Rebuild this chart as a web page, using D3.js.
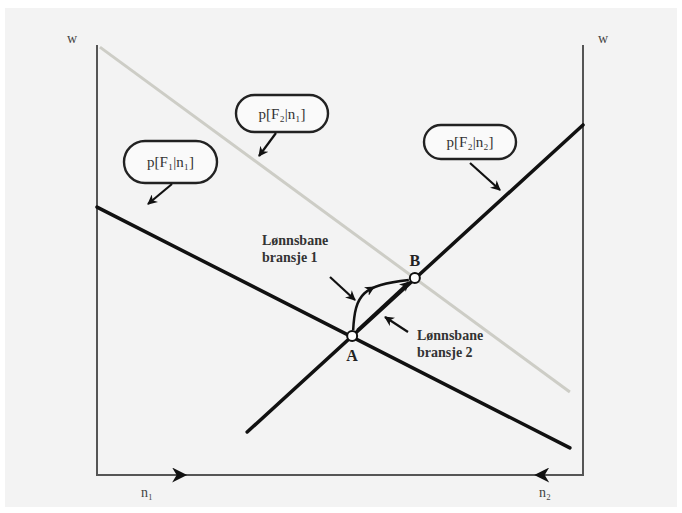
<!DOCTYPE html>
<html><head><meta charset="utf-8">
<script src="https://cdn.jsdelivr.net/npm/d3@7"></script>
<style>body{margin:0;background:#fff}svg{display:block}</style>
</head><body>
<svg id="c" width="682" height="513"></svg>
<script>
// Data (in abstract units 0..100)
const lineF1n1 = [[0, 62.3], [97.3, 6.3]];
const lineF2n2 = [[30.9, 10], [100, 81.4]];
const lineF2n1 = [[0.6, 99.5], [97.3, 19.3]];
const pointA = [52.5, 32.3];
const pointB = [65.4, 45.8];
const pointLabels = ["A", "B"];
const curveLabels = ["p[F₁|n₁]", "p[F₂|n₁]", "p[F₂|n₂]"];
const pathLabels = [["Lønnsbane", "bransje 1"], ["Lønnsbane", "bransje 2"]];
const axisLabels = ["w", "w", "n₁", "n₂"];

const svg = d3.select("#c");
const x = d3.scaleLinear().domain([0, 100]).range([97, 583]);
const y = d3.scaleLinear().domain([0, 100]).range([475, 45]);

svg.append("rect").attr("x", 5).attr("y", 8).attr("width", 672).attr("height", 499).attr("fill", "#f3f3f3");

const defs = svg.append("defs");
defs.append("marker").attr("id", "ah").attr("viewBox", "0 0 10 10").attr("refX", 9).attr("refY", 5)
  .attr("markerWidth", 10).attr("markerHeight", 10).attr("markerUnits", "userSpaceOnUse").attr("orient", "auto")
  .append("path").attr("d", "M0,0 L10,5 L0,10 L3,5 Z").attr("fill", "#111");
defs.append("marker").attr("id", "ahb").attr("viewBox", "0 0 10 10").attr("refX", 5).attr("refY", 5)
  .attr("markerWidth", 18).attr("markerHeight", 15).attr("markerUnits", "userSpaceOnUse").attr("orient", "auto")
  .append("path").attr("d", "M0,0 L10,5 L0,10 L3,5 Z").attr("fill", "#111");

const serif = "'Liberation Serif','DejaVu Serif',serif";

// axes frame
const frame = [[0, 100], [0, 0], [100, 0], [100, 100]];
svg.append("path").attr("d", d3.line().x(d => x(d[0])).y(d => y(d[1]))(frame))
  .attr("fill", "none").attr("stroke", "#555").attr("stroke-width", 2);
// bottom axis arrows
svg.append("line").attr("x1", x(10)).attr("y1", y(0)).attr("x2", x(17)).attr("y2", y(0)).attr("stroke", "none").attr("marker-end", "url(#ahb)");
svg.append("line").attr("x1", x(97)).attr("y1", y(0)).attr("x2", x(91.5)).attr("y2", y(0)).attr("stroke", "none").attr("marker-end", "url(#ahb)");

const ln = d3.line().x(d => x(d[0])).y(d => y(d[1]));
svg.append("path").attr("d", ln(lineF2n1)).attr("stroke", "#cdcdc6").attr("stroke-width", 3).attr("fill", "none");
svg.append("path").attr("d", ln(lineF1n1)).attr("stroke", "#111").attr("stroke-width", 3.5).attr("fill", "none").attr("stroke-linecap", "round");
svg.append("path").attr("d", ln(lineF2n2)).attr("stroke", "#111").attr("stroke-width", 3.5).attr("fill", "none").attr("stroke-linecap", "round");

// wage paths from A to B
const ax = x(pointA[0]), ay = y(pointA[1]), bx = x(pointB[0]), by = y(pointB[1]);
const P = [[ax + 1, ay - 6], [ax + 3, ay - 42], [ax + 10, ay - 51], [bx - 6, by + 2]];
svg.append("path").attr("d", `M${P[0]} C${P[1]} ${P[2]} ${P[3]}`)
  .attr("fill", "none").attr("stroke", "#111").attr("stroke-width", 2.5);
const t = 0.6, u = 1 - t;
const bz = k => u*u*u*P[0][k] + 3*u*u*t*P[1][k] + 3*u*t*t*P[2][k] + t*t*t*P[3][k];
const dz = k => u*u*(P[1][k]-P[0][k]) + 2*u*t*(P[2][k]-P[1][k]) + t*t*(P[3][k]-P[2][k]);
const mid = [bz(0), bz(1)], tg = [dz(0), dz(1)], tl = Math.hypot(tg[0], tg[1]);
svg.append("line").attr("x1", mid[0] - tg[0] / tl * 4).attr("y1", mid[1] - tg[1] / tl * 4)
  .attr("x2", mid[0] + tg[0] / tl * 5).attr("y2", mid[1] + tg[1] / tl * 5)
  .attr("stroke", "none").attr("marker-end", "url(#ah)");
svg.append("path").attr("d", `M${ax + 5},${ay - 6} L${bx - 6},${by + 4}`)
  .attr("fill", "none").attr("stroke", "#111").attr("stroke-width", 2.5).attr("marker-end", "url(#ah)");

// points
svg.selectAll("circle.pt").data([pointA, pointB]).join("circle")
  .attr("cx", d => x(d[0])).attr("cy", d => y(d[1])).attr("r", 5)
  .attr("fill", "#fff").attr("stroke", "#111").attr("stroke-width", 2);
svg.append("text").attr("x", ax).attr("y", ay + 25).text(pointLabels[0])
  .attr("font-family", serif).attr("font-weight", "bold").attr("font-size", 16).attr("text-anchor", "middle").attr("fill", "#222");
svg.append("text").attr("x", bx).attr("y", by - 12).text(pointLabels[1])
  .attr("font-family", serif).attr("font-weight", "bold").attr("font-size", 16).attr("text-anchor", "middle").attr("fill", "#222");

// callout boxes
const boxes = [
  {t: curveLabels[0], x0: 124, y0: 141, w: 93, h: 42, ax1: 172, ay1: 184, ax2: 148, ay2: 204},
  {t: curveLabels[1], x0: 236, y0: 95, w: 92, h: 37, ax1: 276, ay1: 133, ax2: 259, ay2: 156},
  {t: curveLabels[2], x0: 424, y0: 125, w: 92, h: 34, ax1: 470, ay1: 163, ax2: 500, ay2: 190}
];
boxes.forEach(b => {
  svg.append("rect").attr("x", b.x0).attr("y", b.y0).attr("width", b.w).attr("height", b.h)
    .attr("rx", b.h / 2).attr("fill", "#fafafa").attr("stroke", "#222").attr("stroke-width", 2.4);
  svg.append("text").attr("x", b.x0 + b.w / 2).attr("y", b.y0 + b.h / 2 + 5).text(b.t)
    .attr("font-family", serif).attr("font-size", 15).attr("text-anchor", "middle").attr("fill", "#333");
  svg.append("line").attr("x1", b.ax1).attr("y1", b.ay1).attr("x2", b.ax2).attr("y2", b.ay2)
    .attr("stroke", "#111").attr("stroke-width", 2.2).attr("marker-end", "url(#ah)");
});
// path labels
[[262, 245, pathLabels[0]], [417, 340, pathLabels[1]]].forEach(([tx, ty, lines]) => {
  lines.forEach((s, i) => svg.append("text").attr("x", tx).attr("y", ty + i * 17).text(s)
    .attr("font-family", serif).attr("font-weight", "bold").attr("font-size", 14).attr("fill", "#333"));
});
svg.append("line").attr("x1", 330).attr("y1", 277).attr("x2", 355).attr("y2", 300)
  .attr("stroke", "#111").attr("stroke-width", 2.2).attr("marker-end", "url(#ah)");
svg.append("line").attr("x1", 408).attr("y1", 332).attr("x2", 385).attr("y2", 317)
  .attr("stroke", "#111").attr("stroke-width", 2.2).attr("marker-end", "url(#ah)");

// axis labels
const axText = (t, tx, ty) => svg.append("text").attr("x", tx).attr("y", ty).text(t)
  .attr("font-family", serif).attr("font-size", 14).attr("fill", "#444").attr("text-anchor", "middle");
axText(axisLabels[0], 72, 43);
axText(axisLabels[1], 603, 43);
axText(axisLabels[2], 147, 497);
axText(axisLabels[3], 545, 497);
</script>
</body></html>
